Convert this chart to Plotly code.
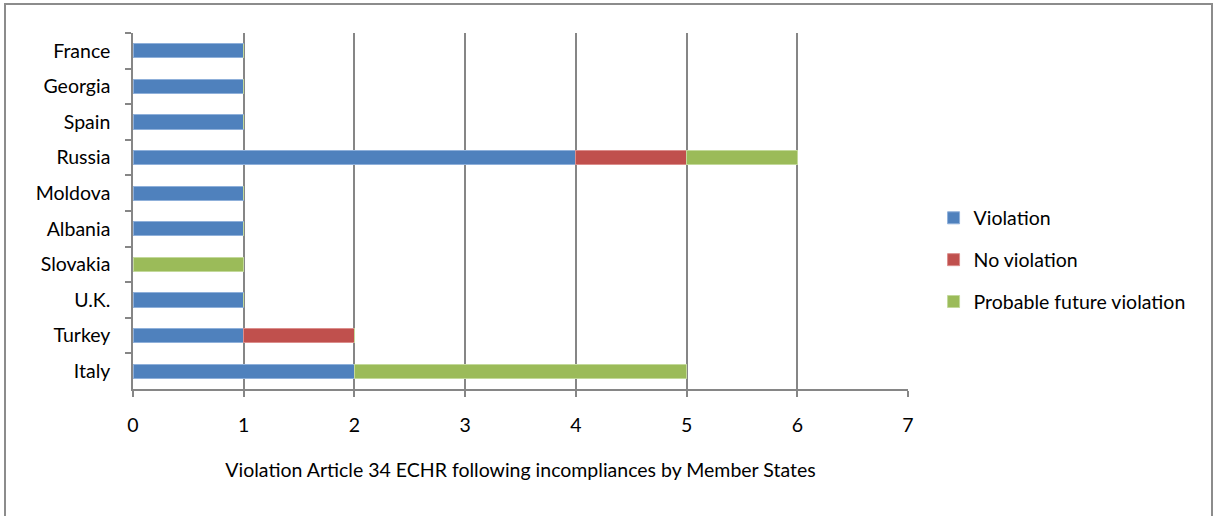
import plotly.graph_objects as go

countries = ["France", "Georgia", "Spain", "Russia", "Moldova", "Albania",
             "Slovakia", "U.K.", "Turkey", "Italy"]
violation = [1, 1, 1, 4, 1, 1, 0, 1, 1, 2]
no_violation = [0, 0, 0, 1, 0, 0, 0, 0, 1, 0]
probable = [0, 0, 0, 1, 0, 0, 1, 0, 0, 3]
series_names = ["Violation", "No violation", "Probable future violation"]
colors = ["#4F81BD", "#C0504D", "#9BBB59"]
edge_colors = ["#8FB0DA", "#DB8E8C", "#C3D99B"]
x_title = "Violation Article 34 ECHR following incompliances by Member States"

FONT = "Lato, 'Open Sans', sans-serif"
FS = 19.5

fig = go.Figure()
for i, (name, vals) in enumerate(zip(series_names, [violation, no_violation, probable])):
    fig.add_trace(go.Bar(
        y=countries, x=vals, name=name, orientation="h",
        marker=dict(color=colors[i], line=dict(color=edge_colors[i], width=1)),
        legendgroup=f"g{i}",
    ))

fig.update_layout(
    barmode="stack",
    bargap=0.6,
    width=1216, height=516,
    margin=dict(l=133, r=308, t=33, b=127),
    paper_bgcolor="white",
    plot_bgcolor="white",
    font=dict(family=FONT, size=FS, color="#000000"),
    showlegend=True,
    legend=dict(
        x=1.033, xanchor="left", y=0.362, yanchor="middle",
        font=dict(family=FONT, size=FS, color="#000000"),
        tracegroupgap=13.5,
        traceorder="grouped",
        bgcolor="rgba(0,0,0,0)",
    ),
    xaxis=dict(
        range=[0, 7], dtick=1, tick0=0,
        showgrid=True, gridcolor="#868686", gridwidth=1.5,
        zeroline=False,
        showline=True, linecolor="#868686", linewidth=1.5,
        ticks="outside", ticklen=6, tickcolor="#868686", tickwidth=1.5,
        ticklabelstandoff=12,
        title=dict(text=x_title, standoff=28, font=dict(family=FONT, size=FS)),
        fixedrange=True,
    ),
    yaxis=dict(
        categoryorder="array", categoryarray=countries,
        autorange="reversed",
        showgrid=False, zeroline=False,
        showline=True, linecolor="#868686", linewidth=1.5,
        ticks="outside", ticklen=6, tickcolor="#868686", tickwidth=1.5,
        tickson="boundaries",
        ticklabelstandoff=17,
        fixedrange=True,
    ),
)

# outer chart border
fig.add_shape(type="rect", xref="paper", yref="paper",
              x0=(5 - 133) / 775, x1=(1212 - 133) / 775,
              y0=(389 - 530) / 356, y1=(389 - 4) / 356,
              line=dict(color="#8C8C8C", width=2), fillcolor="rgba(0,0,0,0)",
              layer="below")

fig.write_html("out.html", config={"displayModeBar": False},
               post_script="document.body.style.margin='0';")
